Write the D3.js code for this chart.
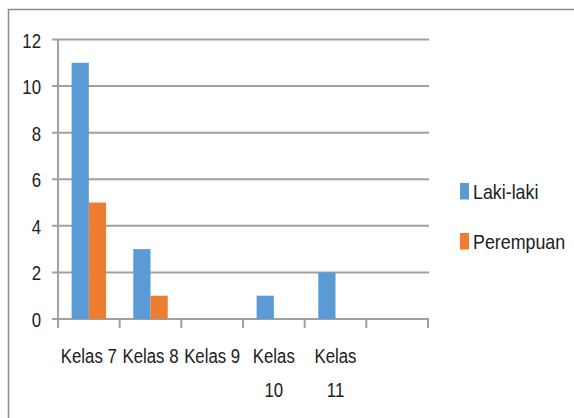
<!DOCTYPE html>
<html>
<head>
<meta charset="utf-8">
<script src="https://cdn.jsdelivr.net/npm/d3@7"></script>
<style>
  body { margin: 0; background: #fff; }
  svg text { font-family: "Liberation Sans", Arial, sans-serif; fill: #202020; }
</style>
</head>
<body>
<svg id="chart" width="574" height="418"></svg>
<script>
// data
var categories = ["Kelas 7", "Kelas 8", "Kelas 9", "Kelas 10", "Kelas 11", ""];
var series = ["Laki-laki", "Perempuan"];
var lakiLaki = [11, 3, 0, 1, 2, 0];
var perempuan = [5, 1, 0, 0, 0, 0];
var yTicks = [0, 2, 4, 6, 8, 10, 12];

var colors = { "Laki-laki": "#5B9BD5", "Perempuan": "#ED7D31" };
var squeeze = 0.8; // text in the picture is narrow and tall
var fontSize = 21;

var svg = d3.select('svg#chart');

// outer frame (only top and left edges show)
svg.append("path")
  .attr("d", "M8.5,418 L8.5,9.5 L574,9.5")
  .attr("fill", "none")
  .attr("stroke", "#8c8c8c")
  .attr("stroke-width", 1.5);

var x0 = d3.scaleBand().domain(categories).range([58, 428]);
var x1 = d3.scaleBand().domain(series).range([0, x0.bandwidth()]).paddingInner(0).paddingOuter(0.79);
var y = d3.scaleLinear().domain([0, 12]).range([319, 39.5]);

// gridlines, with little ticks left of the axis
svg.append('g').selectAll('line').data(yTicks).enter().append("line")
  .attr('x1', 52)
  .attr('x2', 429)
  .attr('y1', d => y(d))
  .attr('y2', d => y(d))
  .attr("stroke", "#a0a0a0")
  .attr("stroke-width", 2);

// y axis line
svg.append("line")
  .attr('x1', 58).attr('x2', 58)
  .attr('y1', y(12)).attr('y2', y(0))
  .attr("stroke", "#a0a0a0")
  .attr("stroke-width", 2);

// category ticks under the baseline
var bounds = categories.map(c => x0(c)).concat([x0.range()[1]]);
svg.append('g').selectAll('line').data(bounds).enter().append("line")
  .attr('x1', d => d).attr('x2', d => d)
  .attr('y1', y(0)).attr('y2', y(0) + 9)
  .attr("stroke", "#a0a0a0")
  .attr("stroke-width", 2);

// bars
var rows = categories.map((c, i) => ({ cat: c, vals: [
  { s: "Laki-laki", v: lakiLaki[i] },
  { s: "Perempuan", v: perempuan[i] }
]}));

var gs = svg.append('g').selectAll('g').data(rows).enter().append('g')
  .attr('transform', d => 'translate(' + x0(d.cat) + ',0)');

gs.selectAll('rect').data(d => d.vals.filter(e => e.v > 0)).enter().append('rect')
  .attr("x", d => x1(d.s))
  .attr("width", x1.bandwidth())
  .attr("y", d => y(d.v))
  .attr("height", d => y(0) - y(d.v))
  .attr("fill", d => colors[d.s]);

// y tick labels
svg.append('g').selectAll('text').data(yTicks).enter().append("text")
  .attr('transform', d => 'translate(41,' + (y(d) + 8) + ') scale(' + squeeze + ',1)')
  .attr("text-anchor", "end")
  .attr("font-size", fontSize)
  .text(d => d);

// category labels, wrapped when they don't fit the band
var lbl = svg.append('g').selectAll('text').data(categories).enter().append("text")
  .attr('transform', d => 'translate(' + (x0(d) + x0.bandwidth() / 2) + ',363) scale(' + squeeze + ',1)')
  .attr("text-anchor", "middle")
  .attr("font-size", fontSize);

lbl.each(function(d) {
  var t = d3.select(this);
  t.text(d);
  if (this.getComputedTextLength() * squeeze > x0.bandwidth() - 2) {
    var words = d.split(' ');
    t.text(null);
    words.forEach((w, i) => {
      t.append('tspan').attr('x', 0).attr('dy', i == 0 ? 0 : 34.5).text(w);
    });
  }
});

// legend
var leg = svg.append('g').selectAll('g').data(series).enter().append('g')
  .attr('transform', (d, i) => 'translate(460,' + (183 + i * 50) + ')');
leg.append('rect')
  .attr('width', 9)
  .attr('height', 16.5)
  .attr('fill', d => colors[d]);
leg.append('text')
  .attr('transform', 'translate(13,15.5) scale(' + (squeeze + 0.05) + ',1)')
  .attr("font-size", fontSize)
  .text(d => d);
</script>
</body>
</html>
